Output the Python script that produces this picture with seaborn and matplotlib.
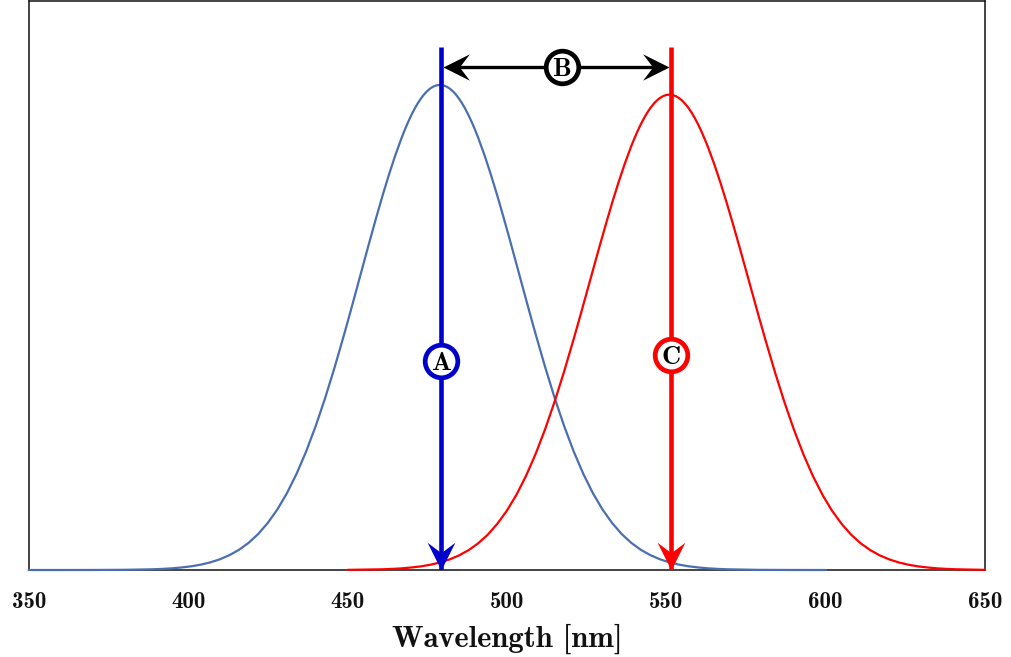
import matplotlib
matplotlib.use("Agg")
import matplotlib.pyplot as plt
from matplotlib.path import Path
import seaborn as sns

# ---------------- data ----------------
blue_wl = [350, 360, 370, 380,
           389, 392, 395, 398, 401, 404, 407, 410, 413, 416, 419, 422, 425, 428, 431, 434, 437, 440, 443, 446,
           449, 451, 453, 455, 457, 459, 461, 463, 465, 467,
           468, 469, 470, 471, 472, 473, 474, 475, 476, 477, 478, 479, 480, 481, 482, 483, 484, 485, 486, 487,
           488, 489, 490,
           491, 493, 495, 497, 499, 501, 503, 505, 507, 509,
           512, 515, 518, 521, 524, 527, 530, 533, 536, 539, 542, 545, 548, 551, 554, 557, 560, 563, 566, 569,
           579, 589, 600]
blue_val = [0.0000, 0.0000, 0.0001, 0.0004,
            0.0015, 0.0023, 0.0035, 0.0053, 0.0077, 0.0111, 0.0158, 0.0222, 0.0307, 0.0418, 0.0561, 0.0743,
            0.0971, 0.1248, 0.1583, 0.1979, 0.2438, 0.2962, 0.3546, 0.4185,
            0.4868, 0.5341, 0.5823, 0.6308, 0.6790, 0.7261, 0.7717, 0.8148, 0.8549, 0.8912,
            0.9077, 0.9231, 0.9373, 0.9501, 0.9616, 0.9716, 0.9802, 0.9873, 0.9928, 0.9968, 0.9992, 1.0000,
            0.9992, 0.9968, 0.9928, 0.9873, 0.9802, 0.9716, 0.9616, 0.9501, 0.9373, 0.9231, 0.9077,
            0.8912, 0.8549, 0.8148, 0.7717, 0.7261, 0.6790, 0.6308, 0.5823, 0.5341, 0.4868,
            0.4185, 0.3546, 0.2962, 0.2438, 0.1979, 0.1583, 0.1248, 0.0971, 0.0743, 0.0561, 0.0418, 0.0307,
            0.0222, 0.0158, 0.0111, 0.0077, 0.0053, 0.0035, 0.0023, 0.0015,
            0.0003, 0.0001, 0.0000]

red_wl = [450,
          461, 464, 467, 470, 473, 476, 479, 482, 485, 488, 491, 494, 497, 500, 503, 506, 509, 512, 515, 518,
          521, 523, 525, 527, 529, 531, 533, 535, 537, 539,
          540, 541, 542, 543, 544, 545, 546, 547, 548, 549, 550, 551, 552, 553, 554, 555, 556, 557, 558, 559,
          560, 561, 562,
          563, 565, 567, 569, 571, 573, 575, 577, 579, 581,
          584, 587, 590, 593, 596, 599, 602, 605, 608, 611, 614, 617, 620, 623, 626, 629, 632, 635, 638, 641,
          650]
red_val = [0.0003,
           0.0015, 0.0023, 0.0034, 0.0052, 0.0075, 0.0109, 0.0155, 0.0218, 0.0301, 0.0410, 0.0550, 0.0728,
           0.0952, 0.1223, 0.1551, 0.1939, 0.2389, 0.2903, 0.3475, 0.4101,
           0.4771, 0.5234, 0.5707, 0.6182, 0.6654, 0.7116, 0.7563, 0.7985, 0.8378, 0.8734,
           0.8895, 0.9046, 0.9186, 0.9311, 0.9424, 0.9522, 0.9606, 0.9676, 0.9729, 0.9769, 0.9792, 0.9800,
           0.9792, 0.9769, 0.9729, 0.9676, 0.9606, 0.9522, 0.9424, 0.9311, 0.9186, 0.9046, 0.8895,
           0.8734, 0.8378, 0.7985, 0.7563, 0.7116, 0.6654, 0.6182, 0.5707, 0.5234, 0.4771,
           0.4101, 0.3475, 0.2903, 0.2389, 0.1939, 0.1551, 0.1223, 0.0952, 0.0728, 0.0550, 0.0410, 0.0301,
           0.0218, 0.0155, 0.0109, 0.0075, 0.0052, 0.0034, 0.0023, 0.0015,
           0.0003]

x_ticks = [350, 400, 450, 500, 550, 600, 650]
x_label = "Wavelength [nm]"
peak_a = 479.3      # blue marker line (A)
peak_c = 551.5      # red marker line (C)
labels = ["A", "B", "C"]

# ---------------- styling ----------------
sns.set_theme(style="white")
FONT = "cmb10"
BLUE_CURVE = "#4a6fae"
BLUE_LINE = "#0000cc"
RED = "#ff0000"
INK = "#111111"

fig = plt.figure(figsize=(10.11, 6.57), dpi=100)
ax = fig.add_axes([0.0284, 0.1324, 0.9459, 0.8661])

sns.lineplot(x=blue_wl, y=blue_val, color=BLUE_CURVE, linewidth=1.6, ax=ax,
             clip_on=False, zorder=3)
sns.lineplot(x=red_wl, y=red_val, color=RED, linewidth=1.6, ax=ax,
             clip_on=False, zorder=3)

ax.set_xlim(350, 650)
ax.set_ylim(0, 1.173)

# arrowhead markers (stealth shape), tip at the data point
down_head = Path([(0, 0), (-0.5, 1.0), (0, 0.62), (0.5, 1.0), (0, 0)],
                 [Path.MOVETO, Path.LINETO, Path.LINETO, Path.LINETO, Path.CLOSEPOLY])
left_head = Path([(0, 0), (1.0, 0.5), (0.62, 0), (1.0, -0.5), (0, 0)],
                 [Path.MOVETO, Path.LINETO, Path.LINETO, Path.LINETO, Path.CLOSEPOLY])
right_head = Path([(0, 0), (-1.0, 0.5), (-0.62, 0), (-1.0, -0.5), (0, 0)],
                  [Path.MOVETO, Path.LINETO, Path.LINETO, Path.LINETO, Path.CLOSEPOLY])

line_top = 1.078
b_level = 1.037
circle_ac = [0.431, 0.443]

# vertical marker lines
ax.vlines([peak_a], 0, line_top, colors=BLUE_LINE, linewidth=3.3, zorder=4)
ax.vlines([peak_c], 0, line_top, colors=RED, linewidth=3.3, zorder=4)
ax.plot([peak_a], [0], marker=down_head, markersize=40, color=BLUE_LINE,
        markeredgewidth=0, linestyle="none", zorder=5, clip_on=False)
ax.plot([peak_c], [0], marker=down_head, markersize=40, color=RED,
        markeredgewidth=0, linestyle="none", zorder=5, clip_on=False)

# B double arrow
a_edge = peak_a + 0.55
c_edge = peak_c - 0.55
ax.hlines([b_level], a_edge + 2, c_edge - 2, colors="black", linewidth=2.4, zorder=4)
ax.plot([a_edge], [b_level], marker=left_head, markersize=38, color="black",
        markeredgewidth=0, linestyle="none", zorder=5)
ax.plot([c_edge], [b_level], marker=right_head, markersize=38, color="black",
        markeredgewidth=0, linestyle="none", zorder=5)

# circled labels
b_x = (peak_a + peak_c) / 2 + 1.8
for (x, y, col, txt) in [(peak_a, circle_ac[0], BLUE_LINE, labels[0]),
                         (b_x, b_level, "black", labels[1]),
                         (peak_c, circle_ac[1], RED, labels[2])]:
    ax.plot([x], [y], marker="o", markersize=23.5, markerfacecolor="white",
            markeredgecolor=col, markeredgewidth=3.4, linestyle="none", zorder=6)
    ax.text(x, y, txt, ha="center", va="center_baseline", fontfamily=FONT,
            fontsize=19, color="black", zorder=7)

# axes cosmetics
for s in ax.spines.values():
    s.set_visible(True)
    s.set_color(INK)
    s.set_linewidth(1.1)
ax.set_yticks([])
ax.set_xticks(x_ticks)
ax.set_xticklabels([str(t) for t in x_ticks], fontfamily=FONT, fontsize=16.5)
ax.tick_params(axis="x", length=0, pad=15, colors=INK)
ax.set_xlabel(x_label, fontfamily=FONT, fontsize=22, labelpad=8, color=INK)
ax.set_ylabel("")
ax.grid(False)

fig.savefig("out.png", dpi=100, facecolor="white")
